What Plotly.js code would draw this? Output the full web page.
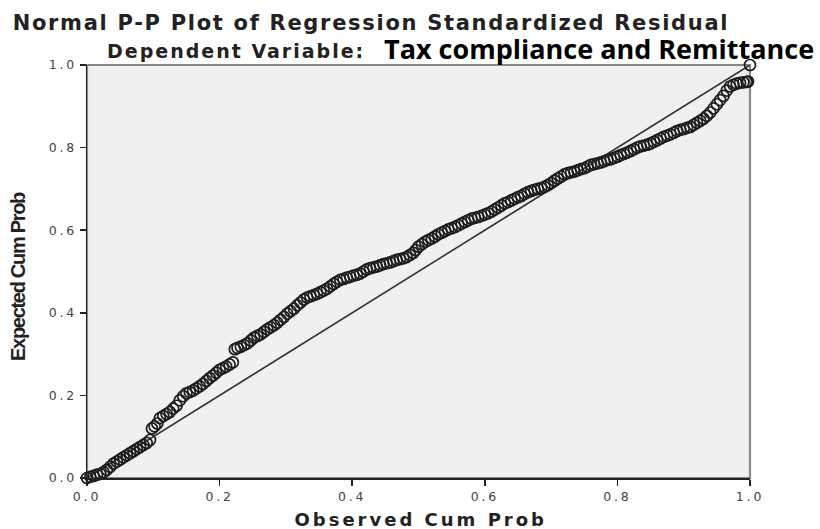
<!DOCTYPE html>
<html>
<head>
<meta charset="utf-8">
<script src="https://cdn.plot.ly/plotly-3.0.1.min.js"></script>
<style>
html,body{margin:0;padding:0;background:#fff;}
#chart{width:820px;height:529px;}
#chart .xtick text, #chart .ytick text{letter-spacing:2.8px;}
#chart .annotation[data-index="0"] text{letter-spacing:1.7px;}
#chart .annotation[data-index="1"] text{letter-spacing:2px;}
#chart .annotation[data-index="3"] text{letter-spacing:3px;}
#chart .annotation[data-index="4"] text{letter-spacing:-1.3px;}
</style>
</head>
<body>
<div id="chart"></div>
<script>
// Observed cumulative probability (x) and expected cumulative probability (y)
const observedCumProb = [0.000,0.005,0.010,0.015,0.020,0.025,0.030,0.035,0.040,0.045,0.050,0.055,0.060,0.065,0.070,0.075,0.080,0.085,0.090,0.095,
  0.098,0.102,0.106,0.110,0.115,0.120,0.125,0.130,0.135,0.140,0.145,0.150,0.155,0.160,0.165,0.170,0.175,0.180,0.185,0.190,0.195,0.200,0.205,0.210,0.215,0.220,
  0.223,0.227,0.232,0.237,0.242,0.247,0.252,0.257,0.262,0.267,0.272,0.277,0.282,0.287,0.292,0.297,0.302,0.307,0.312,0.317,0.322,0.327,0.332,0.337,0.342,0.347,0.352,0.357,0.362,0.367,0.372,0.377,0.382,0.387,0.392,0.397,
  0.402,0.407,0.412,0.417,0.422,0.427,0.432,0.437,0.442,0.447,0.452,0.457,0.462,0.467,0.472,0.477,0.482,0.487,0.492,0.496,0.500,0.505,0.510,0.515,0.520,0.525,0.530,0.535,0.540,0.545,0.550,0.555,0.560,0.565,0.570,0.575,0.580,0.585,0.590,0.595,
  0.600,0.605,0.610,0.615,0.620,0.625,0.630,0.635,0.640,0.645,0.650,0.655,0.660,0.665,0.670,0.675,0.680,0.685,0.690,0.695,0.700,0.705,0.710,0.715,0.720,0.725,0.730,0.735,0.740,0.745,0.750,0.755,0.760,0.765,0.770,0.775,0.780,0.785,0.790,0.795,
  0.800,0.805,0.810,0.815,0.820,0.825,0.830,0.835,0.840,0.845,0.850,0.855,0.860,0.865,0.870,0.875,0.880,0.885,0.890,0.895,0.900,0.905,0.910,0.915,0.920,0.925,0.930,0.935,0.940,0.945,0.950,0.955,0.960,0.965,0.970,0.975,0.980,0.985,0.990,0.995,0.997,1.000];
const expectedCumProb = [0.000,0.003,0.005,0.008,0.010,0.014,0.020,0.027,0.035,0.040,0.045,0.050,0.055,0.060,0.065,0.070,0.075,0.080,0.085,0.092,
  0.120,0.125,0.132,0.145,0.150,0.155,0.160,0.168,0.175,0.188,0.198,0.205,0.208,0.212,0.217,0.222,0.228,0.235,0.242,0.248,0.255,0.262,0.266,0.270,0.275,0.280,
  0.312,0.315,0.318,0.322,0.326,0.333,0.340,0.344,0.348,0.354,0.360,0.365,0.370,0.376,0.383,0.390,0.398,0.404,0.410,0.418,0.425,0.432,0.437,0.440,0.443,0.446,0.450,0.454,0.458,0.464,0.470,0.475,0.480,0.482,0.485,0.487,
  0.490,0.492,0.495,0.500,0.505,0.508,0.510,0.512,0.515,0.518,0.520,0.522,0.525,0.528,0.530,0.532,0.535,0.540,0.545,0.552,0.560,0.566,0.572,0.576,0.580,0.585,0.590,0.594,0.598,0.602,0.605,0.608,0.612,0.616,0.620,0.624,0.628,0.630,0.632,0.635,
  0.638,0.641,0.645,0.650,0.655,0.660,0.665,0.668,0.672,0.676,0.680,0.683,0.688,0.692,0.695,0.698,0.700,0.702,0.705,0.709,0.714,0.720,0.725,0.730,0.735,0.738,0.740,0.742,0.745,0.748,0.750,0.754,0.758,0.760,0.762,0.764,0.767,0.770,0.772,0.775,
  0.778,0.782,0.785,0.788,0.792,0.796,0.800,0.803,0.805,0.807,0.810,0.814,0.818,0.822,0.826,0.829,0.832,0.836,0.840,0.843,0.845,0.848,0.850,0.855,0.860,0.865,0.870,0.877,0.885,0.895,0.905,0.915,0.925,0.938,0.948,0.952,0.955,0.957,0.958,0.959,0.960,1.000];
const refLineX = [0, 1];
const refLineY = [0, 1];
const tickVals = [0, 0.2, 0.4, 0.6, 0.8, 1.0];
const tickText = ['0.0', '0.2', '0.4', '0.6', '0.8', '1.0'];
const titleLine1 = 'Normal P-P Plot of Regression Standardized Residual';
const titleLine2a = 'Dependent Variable:';
const titleLine2b = 'Tax compliance and Remittance';
const xTitle = 'Observed Cum Prob';
const yTitle = 'Expected Cum Prob';

const traces = [
  {x: refLineX, y: refLineY, mode: 'lines', type: 'scatter', line: {color: '#333', width: 1.6}, hoverinfo: 'skip', cliponaxis: false},
  {x: observedCumProb, y: expectedCumProb, mode: 'markers', type: 'scatter', cliponaxis: false,
   marker: {symbol: 'circle-open', size: 11, color: '#1c1c1c', line: {width: 1.7, color: '#1c1c1c'}}}
];

const axisCommon = {
  range: [0, 1], tickvals: tickVals, ticktext: tickText, ticks: 'outside', ticklen: 6, tickwidth: 1.5, tickcolor: '#222',
  showgrid: false, zeroline: false, showline: true, linecolor: '#222', linewidth: 1.5,
  tickfont: {family: 'DejaVu Sans, sans-serif', size: 12.5, color: '#444'}, fixedrange: true
};

const PL = 87, PR = 750, PT = 65, PB = 478;
const px = v => (v - PL) / (PR - PL);
const py = v => (PB - v) / (PB - PT);

const layout = {
  width: 820, height: 529,
  margin: {l: PL, r: 820 - PR, t: PT, b: 529 - PB},
  paper_bgcolor: '#ffffff', plot_bgcolor: '#f0f0f0',
  showlegend: false,
  xaxis: Object.assign({}, axisCommon),
  yaxis: Object.assign({}, axisCommon),
  shapes: [
    {type: 'rect', xref: 'paper', yref: 'paper', x0: 0, x1: 1, y0: 0, y1: 1, line: {color: '#888', width: 2.2}, layer: 'below'}
  ],
  annotations: [
    {text: '<b>' + titleLine1 + '</b>', xref: 'paper', yref: 'paper', x: px(371), y: py(23), xanchor: 'center', yanchor: 'middle', showarrow: false,
     font: {family: 'DejaVu Sans, sans-serif', size: 21, color: '#222'}},
    {text: '<b>' + titleLine2a + '</b>', xref: 'paper', yref: 'paper', x: px(236), y: py(51), xanchor: 'center', yanchor: 'middle', showarrow: false,
     font: {family: 'DejaVu Sans, sans-serif', size: 19, color: '#222'}},
    {text: '<b>' + titleLine2b + '</b>', xref: 'paper', yref: 'paper', x: px(599), y: py(48), xanchor: 'center', yanchor: 'middle', showarrow: false,
     font: {family: 'Open Sans, Noto Sans, sans-serif', size: 27, color: '#000'}},
    {text: '<b>' + xTitle + '</b>', xref: 'paper', yref: 'paper', x: px(421), y: py(519), xanchor: 'center', yanchor: 'middle', showarrow: false,
     font: {family: 'DejaVu Sans, sans-serif', size: 18, color: '#222'}},
    {text: '<b>' + yTitle + '</b>', xref: 'paper', yref: 'paper', x: px(18), y: py(277), xanchor: 'center', yanchor: 'middle', showarrow: false, textangle: -90,
     font: {family: 'Liberation Sans, sans-serif', size: 20, color: '#222'}}
  ]
};

Plotly.newPlot('chart', traces, layout, {displayModeBar: false, staticPlot: true});
</script>
</body>
</html>
